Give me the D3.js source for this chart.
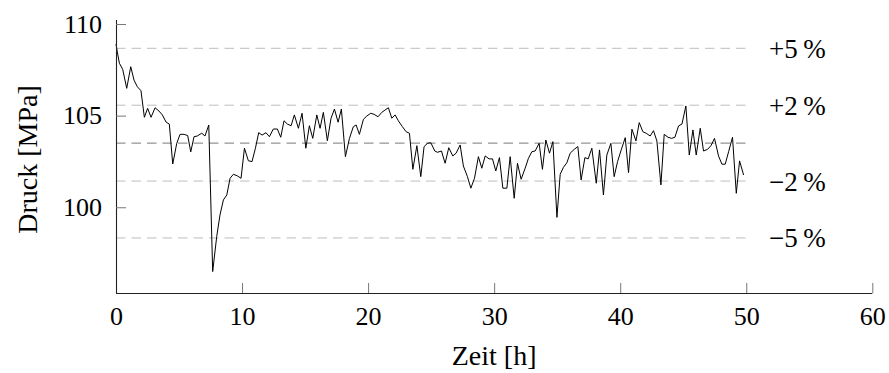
<!DOCTYPE html>
<html>
<head>
<meta charset="utf-8">
<script src="https://cdn.jsdelivr.net/npm/d3@7"></script>
<style>
  html, body { margin: 0; padding: 0; background: #fff; }
  svg { display: block; }
  text { font-family: "Liberation Serif", "DejaVu Serif", serif; fill: #000; }
</style>
</head>
<body>
<svg id="chart" width="889" height="373"></svg>
<script>
// Pressure log: time in hours, pressure in MPa
const zeit = [
  0, 0.1, 0.27, 0.53, 0.85, 1.17, 1.43, 1.69, 1.98, 2.25, 2.51, 2.78, 3.1, 3.41, 3.68, 3.97, 4.23, 4.5, 4.82, 5.08, 5.4, 5.69, 5.93, 6.19,
  6.45, 6.8, 7.06, 7.36, 7.67, 7.99, 8.25, 8.52, 8.79, 9.05, 9.31, 9.63, 9.92, 10.19, 10.5, 10.79, 11.06, 11.32, 11.59, 11.9, 12.17, 12.48,
  12.8, 13.07, 13.33, 13.6, 13.89, 14.15, 14.47, 14.76, 15.06, 15.34, 15.61, 15.93, 16.19, 16.45, 16.77, 17.06, 17.33, 17.62, 17.88, 18.2, 18.52, 18.83,
  19.05, 19.31, 19.63, 19.9, 20.21, 20.48, 20.79, 21.09, 21.35, 21.61, 21.88, 22.14, 22.4, 22.72, 23.02, 23.28, 23.55, 23.87, 24.18, 24.44, 24.71, 24.98, 25.29,
  25.5, 25.82, 26.11, 26.4, 26.72, 26.98, 27.3, 27.56, 27.88, 28.15, 28.44, 28.75, 29.02, 29.29, 29.6, 29.87, 30.13, 30.42, 30.69, 31.01, 31.27, 31.59,
  31.85, 32.14, 32.46, 32.72, 32.99, 33.25, 33.57, 33.83, 34.1, 34.39, 34.66, 34.98, 35.24, 35.5, 35.77, 36.03, 36.35, 36.64, 36.9, 37.2, 37.46, 37.75,
  38.1, 38.36, 38.67, 38.94, 39.26, 39.52, 39.79, 40.08, 40.4, 40.66, 40.93, 41.25, 41.51, 41.8, 42.06, 42.38, 42.64, 42.91, 43.23, 43.49, 43.79, 44.07,
  44.34, 44.63, 44.9, 45.21, 45.48, 45.77, 46.03, 46.35, 46.61, 46.93, 47.2, 47.48, 47.8, 48.07, 48.33, 48.6, 48.91, 49.21, 49.47, 49.79
];
const druck = [
  108.91, 108.49, 107.86, 107.53, 106.49, 107.67, 106.94, 106.58, 106.36, 104.91, 105.40, 104.91, 105.43, 105.25, 105.04, 104.65, 104.54, 102.36, 103.49, 103.98, 103.98, 103.91, 103.02, 103.85,
  103.89, 104.04, 103.89, 104.49, 96.49, 98.40, 99.58, 100.40, 100.67, 101.58, 101.80, 101.71, 101.58, 103.22, 102.54, 102.49, 103.22, 104.07, 103.94, 104.07, 103.85, 104.27,
  104.27, 103.82, 104.72, 104.54, 104.45, 105.04, 104.31, 105.13, 103.22, 104.45, 103.76, 105.04, 104.31, 105.18, 103.63, 104.86, 105.36, 104.64, 105.36, 102.76, 103.76, 104.40,
  104.49, 103.98, 104.80, 104.98, 105.13, 105.07, 104.94, 105.18, 105.31, 105.43, 104.86, 105.04, 104.72, 104.40, 104.12, 104.04, 102.07, 103.36, 101.67, 103.31, 103.49, 103.52, 103.07,
  103.00, 103.07, 102.40, 103.25, 102.80, 102.95, 103.40, 102.25, 101.67, 101.04, 101.58, 102.76, 102.13, 102.80, 102.64, 102.64, 101.98, 102.71, 101.04, 101.04, 102.76, 100.49,
  102.40, 101.53, 102.13, 102.67, 103.03, 103.07, 103.49, 102.07, 103.67, 102.95, 103.58, 99.45, 101.80, 102.18, 102.43, 102.95, 103.16, 103.31, 101.49, 102.71, 102.64, 103.22,
  101.31, 103.13, 100.67, 102.85, 103.49, 101.67, 102.49, 103.13, 103.80, 101.89, 104.26, 103.62, 104.62, 104.12, 104.04, 103.89, 104.18, 103.62, 101.22, 103.98, 103.82, 103.76,
  103.82, 104.44, 104.54, 105.53, 102.85, 104.22, 102.85, 104.31, 103.07, 103.16, 103.36, 103.76, 102.80, 102.35, 102.35, 103.03, 103.82, 100.76, 102.53, 101.76
];

// Reference band: mean pressure and relative deviations
const mittelwert = 103.5;
const abweichungen = [0.05, 0.02, -0.02, -0.05];
const abweichungLabels = ["+5\u2009%", "+2\u2009%", "\u22122\u2009%", "\u22125\u2009%"];

const xTicks = [0, 10, 20, 30, 40, 50, 60];
const yTicks = [100, 105, 110];
const bandEnde = 50;

const svg = d3.select("#chart");
const plotLeft = 116, plotRight = 872.3, plotTop = 20, plotBottom = 293;

const x = d3.scaleLinear().domain([0, 60]).range([plotLeft, plotRight]);
const y = d3.scaleLinear().domain([95.32, 110.22]).range([plotBottom, plotTop]);

// Dashed reference lines
const refs = [{ v: mittelwert, mean: true }].concat(
  abweichungen.map((a, i) => ({ v: mittelwert * (1 + a), label: abweichungLabels[i] }))
);
svg.append("g").selectAll("line").data(refs).join("line")
  .attr("x1", x(0)).attr("x2", x(bandEnde))
  .attr("y1", d => y(d.v)).attr("y2", d => y(d.v))
  .attr("stroke", d => d.mean ? "#7a7a7a" : "#bdbdbd")
  .attr("stroke-width", 1)
  .attr("stroke-dasharray", "9.5,6");

svg.append("g").selectAll("text").data(refs.filter(d => d.label)).join("text")
  .attr("x", 769).attr("y", d => y(d.v))
  .attr("dy", "0.35em")
  .attr("font-size", 27)
  .text(d => d.label);

// Pressure curve
const line = d3.line().x((d, i) => x(zeit[i])).y(d => y(d));
svg.append("path")
  .datum(druck)
  .attr("d", line)
  .attr("fill", "none")
  .attr("stroke", "#000")
  .attr("stroke-width", 1)
  .attr("stroke-linejoin", "round");

// Axes
const xAxis = d3.axisBottom(x).tickValues(xTicks).tickSize(-10).tickPadding(14).tickFormat(d3.format("d"));
const gx = svg.append("g").attr("transform", `translate(0,${plotBottom})`).call(xAxis);
const yAxis = d3.axisLeft(y).tickValues(yTicks).tickSize(-10).tickPadding(14).tickFormat(d3.format("d"));
const gy = svg.append("g").attr("transform", `translate(${plotLeft},0)`).call(yAxis);

[gx, gy].forEach(g => {
  g.select(".domain").attr("stroke", "#222").attr("stroke-width", 1.1);
  g.selectAll(".tick line").attr("stroke", "#777").attr("stroke-width", 1);
  g.selectAll(".tick text").attr("font-size", 26).attr("font-family", "Liberation Serif, serif").attr("fill", "#000");
});
gy.select(".domain").attr("d", `M0.5,${plotBottom}V${plotTop}`);
gx.select(".domain").attr("d", `M${plotLeft},0.5H${plotRight}`);

// Axis titles
svg.append("text")
  .attr("x", (plotLeft + plotRight) / 2).attr("y", 365)
  .attr("text-anchor", "middle").attr("font-size", 28)
  .text("Zeit [h]");
svg.append("text")
  .attr("transform", `translate(37,${(plotTop + plotBottom) / 2 + 3}) rotate(-90)`)
  .attr("text-anchor", "middle").attr("font-size", 28)
  .text("Druck [MPa]");
</script>
</body>
</html>
